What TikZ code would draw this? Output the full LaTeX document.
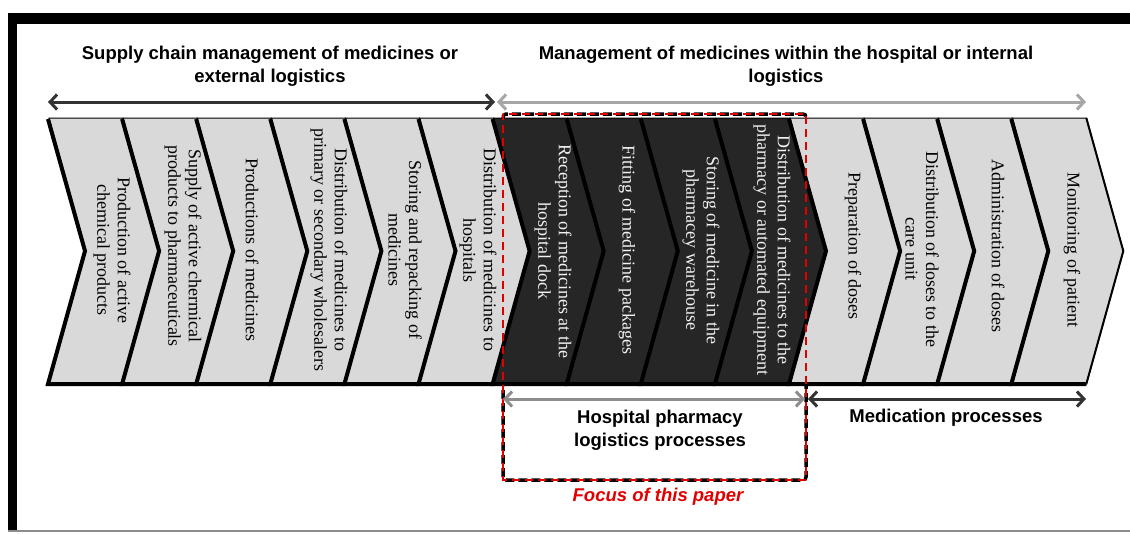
\documentclass[tikz,border=0pt]{standalone}
\usepackage{fontspec}
\setmainfont{Liberation Serif}
\newfontfamily\headfont{Liberation Sans}
\usetikzlibrary{arrows.meta}

\definecolor{lightstep}{HTML}{D9D9D9}
\definecolor{darkstep}{HTML}{262626}
\definecolor{darkarrow}{HTML}{333333}
\definecolor{greyarrow}{HTML}{A6A6A6}
\definecolor{focusred}{HTML}{E00000}
\definecolor{steptextlight}{HTML}{F2F2F2}

\tikzset{
  headtext/.style={font=\headfont\bfseries\fontsize{18.5}{23}\selectfont, align=center, inner sep=0pt},
  steptext/.style={font=\fontsize{18}{20.5}\selectfont, align=center, rotate=-90, inner sep=0pt},
  span/.style={line width=3pt,
    {Straight Barb[length=7pt,width=15pt]}-{Straight Barb[length=7pt,width=15pt]}},
  onstep/.style={text=steptextlight},
  stepedge/.style={black, line width=4pt, line join=miter, line cap=butt},
}

\begin{document}
\begin{tikzpicture}[x=1pt,y=-1pt]
\useasboundingbox (0,0) rectangle (1130,533);

% frame: heavy top and left edges, light bottom rule
\fill[black] (8,13) rectangle (1130,24);
\fill[black] (8,13) rectangle (17,531);
\draw[black!45, line width=1.2pt] (8,531) -- (1130,531);

% black part of the focus outline (sits behind the chevrons)
\draw[black, line width=3.5pt, dash pattern=on 9pt off 4pt, rounded corners=3pt]
  (503,114) rectangle (806,480);

% chevron bodies
\foreach \i in {0,...,13} {
  \pgfmathsetmacro\L{49+74.1*\i}
  \ifnum\i<6 \def\fc{lightstep}\else\ifnum\i<10 \def\fc{darkstep}\else\def\fc{lightstep}\fi\fi
  \filldraw[fill=\fc, draw=black, line width=1pt] (\L,118) -- ++(74.1,0) -- ++(37,133)
    -- ++(-37,133) -- ++(-74.1,0) -- ++(37,-133) -- cycle;
}
% heavy notch edges and bottom edges
\foreach \i in {0,...,13} {
  \pgfmathsetmacro\L{49+74.1*\i}
  \draw[stepedge] (\L-1,119) -- ++(37,132) -- ++(-37,133) -- ++(75,0);
}
\draw[black, line width=2pt, line join=miter] (1086.3,118) -- (1123.3,251) -- (1086.3,384);

% step labels
\node[steptext] (t1) at (112,250) {Production of active\\chemical products};
\node[steptext] (t2) at (183,246) {Supply of active chermical\\products to pharmaceuticals};
\node[steptext] (t3) at (252,250) {Productions of medicines};
\node[steptext] (t4) at (329,250) {Distribution of medicines to\\primary or secondary wholesalers};
\node[steptext] (t5) at (405,250) {Storing and repacking of\\medicines};
\node[steptext] (t6) at (478,250) {Distribution of medicines to\\hospitals};
\node[steptext, onstep] (t7) at (553,251) {Reception of medicines at the\\hospital dock};
\node[steptext, onstep] (t8) at (627,250) {Fitting of medicine packages};
\node[steptext, onstep] (t9) at (701,250) {Storing of medicine in the\\pharmacey warehouse};
\node[steptext, onstep] (t10) at (772,250) {Distribution of medicines to the\\pharmacy or automated equipment};
\node[steptext] (t11) at (853,246) {Preparation of doses};
\node[steptext] (t12) at (922,249) {Distribution of doses to the\\care unit};
\node[steptext] (t13) at (998,246) {Administration of doses};
\node[steptext] (t14) at (1072,250) {Monitoring of patient};

% red part of the focus outline
\draw[focusred, line width=1.6pt, dash pattern=on 8pt off 5pt, dash phase=2pt]
  (503,114) rectangle (806,480);

% headings
\node[headtext] (ext) at (270,66) {Supply chain management of medicines or\\external logistics};
\node[headtext] (int) at (786,66) {Management of medicines within the hospital or internal\\logistics};
\node[headtext] (hpl) at (660,430) {Hospital pharmacy\\logistics processes};
\node[headtext] (med) at (946,418) {Medication processes};
\node[headtext, text=focusred, font=\headfont\bfseries\itshape\fontsize{18.5}{23}\selectfont] (focus) at (658,497) {Focus of this paper};

% span arrows
\coordinate (ext-l) at (48,102);
\coordinate (ext-r) at (495,102);
\coordinate (int-l) at (497,102);
\coordinate (int-r) at (1086,102);
\coordinate (hpl-l) at (503,399);
\coordinate (hpl-r) at (805,399);
\coordinate (med-l) at (808,399);
\coordinate (med-r) at (1086,399);
\draw[span, darkarrow] (ext-l) -- (ext-r);
\draw[span, greyarrow] (int-l) -- (int-r);
\draw[span, greyarrow!85!black] (hpl-l) -- (hpl-r);
\draw[span, darkarrow] (med-l) -- (med-r);
\end{tikzpicture}
\end{document}
